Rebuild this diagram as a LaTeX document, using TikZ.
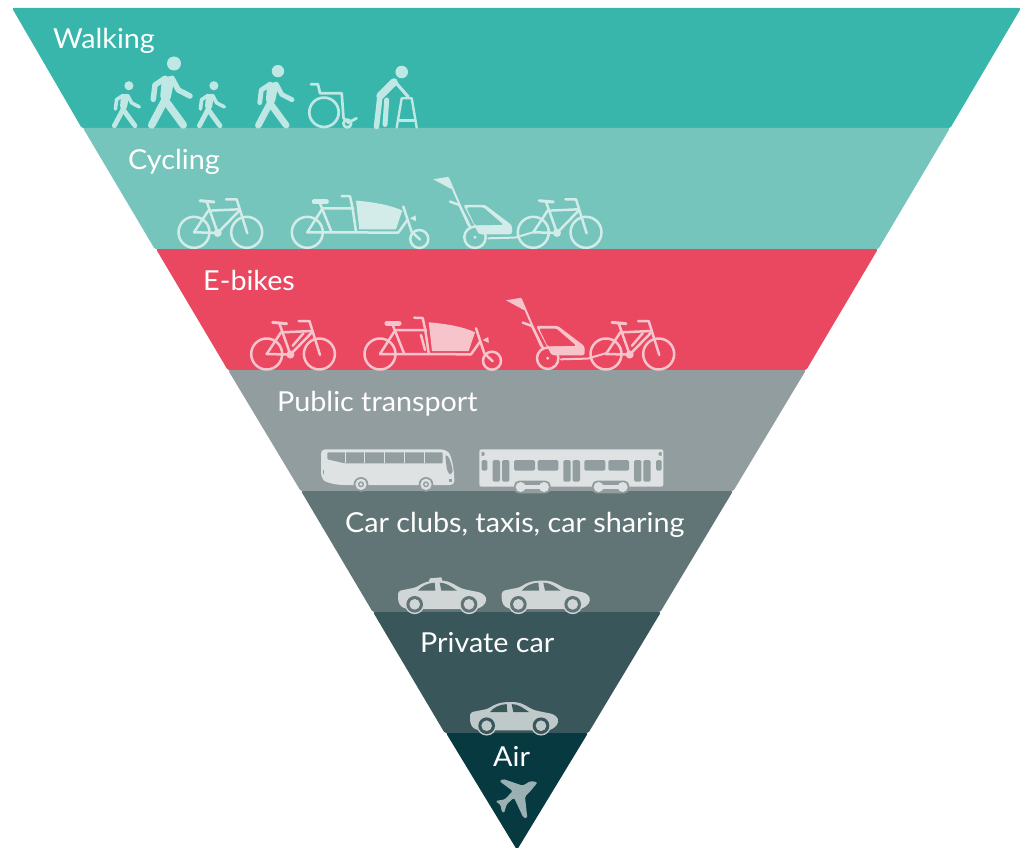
\documentclass[tikz,border=0pt]{standalone}
\usepackage{fontspec}
\setmainfont[FakeStretch=1.045]{Lato}
\definecolor{cWalk}{HTML}{38B6AB}
\definecolor{cCyc}{HTML}{76C5BC}
\definecolor{cEb}{HTML}{EA4860}
\definecolor{cPt}{HTML}{929DA0}
\definecolor{cClub}{HTML}{617577}
\definecolor{cPriv}{HTML}{39565A}
\definecolor{cAir}{HTML}{063A40}
\colorlet{ic}{white}
\colorlet{bg}{black}
\tikzset{
  band/.style={rounded corners=2pt,draw=none},
  lbl/.style={anchor=base west,inner sep=0pt,text=white,font=\fontsize{27.5}{30}\selectfont},
  ln/.style={draw=ic,line width=#1,line cap=round,line join=round,fill=none},
  ln/.default=2.5pt,
}
% walking figure: origin between the feet
\newcommand{\walkicon}[3]{\begin{scope}[shift={(#1,#2)},scale=#3]
  \fill[ic] (6,-63.5) circle (7);
  \fill[ic,rounded corners=3pt] (-6,-50) -- (6,-51) -- (5,-40) -- (2,-26) -- (-8,-28) -- cycle;
  \draw[ln=#3*7.5pt] (-3,-27) -- (-16.3,-2);
  \draw[ln=#3*7.5pt] (-3,-27) -- (15.3,-2);
  \draw[ln=#3*5.5pt] (-3,-48.7) -- (-13,-42) -- (-14.7,-27.7);
  \draw[ln=#3*5.5pt] (4,-48.7) -- (10.3,-37) -- (22,-31);
\end{scope}}
% bicycle: origin at rear axle
\newcommand{\bikeicon}[2]{\begin{scope}[shift={(#1,#2)}]
  \draw[ln] (0,0) circle (15.5);
  \draw[ln] (52.7,0) circle (15.5);
  \fill[ic] (23.7,0.6) circle (4);
  \draw[ln] (0,0) -- (23.7,0.6) -- (45.3,-21.6);
  \draw[ln] (0,0) -- (14.3,-21.6) -- (45.3,-23);
  \draw[ln] (12.7,-30.6) -- (23.7,0.6);
  \draw[ln] (32,-33) -- (42.7,-33) -- (53.3,1);
  \draw[ln=3pt] (6,-31.6) -- (20,-30.3);
\end{scope}}
% cargo bike: origin at rear axle
\newcommand{\cargoicon}[2]{\begin{scope}[shift={(#1,#2)}]
  \draw[ln] (0,0) circle (15.5);
  \draw[ln] (112,6.7) circle (9);
  \fill[ic] (48.7,-31.7) .. controls (68,-30) and (84,-27) .. (95,-21.7)
     -- (88.7,-3) -- (52,-3) -- cycle;
  \draw[ln] (0,0) -- (91,0.3) -- (100,-12.3);
  \draw[ln] (12.7,-29) -- (24.3,0);
  \draw[ln] (0,0) -- (15.3,-24) -- (46,-24);
  \draw[ln] (34.3,-36.3) -- (42.7,-36) -- (45.3,-24) -- (48.7,-0.7);
  \draw[ln=4.5pt] (6.7,-30.7) -- (19.3,-30.7);
  \draw[ln] (96,-25.7) -- (104.3,-0.7) -- (112.7,7.3);
  \fill[ic] (102.7,-14) -- (108.3,-17) -- (108.8,-11) -- cycle;
\end{scope}}
% child trailer: origin at wheel axle
\newcommand{\trailericon}[2]{\begin{scope}[shift={(#1,#2)}]
  \draw[ln] (0,0) circle (10.7);
  \fill[ic] (0,0) circle (1.6);
  \draw[ln=2pt] (-26.7,-59) -- (-6.7,-12.3);
  \fill[ic] (-41.7,-58) -- (-26.7,-60.5) -- (-23.3,-48) -- cycle;
  \draw[ln] (-25,-35.7) -- (-15.7,-32.3) -- (-5,-10.7);
  \fill[ic,rounded corners=2.5pt] (-11.7,-32.5) -- (10,-32.5) -- (37,-12) -- (37,-3) -- (4,-3) -- cycle;
  \fill[bg,rounded corners=1.5pt] (-8.5,-29.8) -- (8.5,-29.8) -- (28.5,-12.5) -- (0,-12) -- cycle;
  \draw[ln=2pt] (13.3,1) -- (40,0.3) -- (58,-5);
\end{scope}}
\newcommand{\wheelchairicon}{%
  \draw[ln=2.7pt] (324,112.3) circle (14.7);
  \draw[ln=2.7pt] (347.3,123.5) circle (3.9);
  \draw[ln=2.7pt] (311,84.3) -- (318,84.3) -- (320,93.3) -- (341.7,93.3) -- (343.5,118) -- (348.3,122.7) -- (356.5,118.3);
}
% car: origin at lower left of its box, 1/3 scale of drawn units
\newcommand{\caricon}[2]{\begin{scope}[shift={(#1,#2)},scale=1/3]
  \fill[ic,rounded corners=3pt] (0,-57) -- (55,-68) .. controls (72,-80) and (90,-88) .. (125,-88)
    .. controls (155,-88) and (175,-72) .. (195,-63) -- (250,-52) -- (266,-38) -- (262,-18) -- (240,-3)
    -- (30,-3) -- (10,-8) -- (0,-26) -- cycle;
  \fill[bg] (60,-58) .. controls (70,-72) and (90,-81) .. (110,-82) -- (112,-58) -- cycle;
  \fill[bg] (125,-82) .. controls (145,-82) and (160,-70) .. (177,-58) -- (130,-58) -- cycle;
  \foreach \wx in {50,213}{
    \fill[ic] (\wx,-17) circle (29.5);
    \fill[bg] (\wx,-17) circle (25);
    \fill[ic] (\wx,-17) circle (16);
  }
\end{scope}}
\begin{document}
\begin{tikzpicture}[x=1pt,y=-1pt]
\useasboundingbox (0,0) rectangle (1021,848);
% bands
\fill[band,cWalk] (12,8) -- (1021,8) -- (950,128.5) -- (82,128.5) -- cycle;
\fill[band,cCyc] (83,128) -- (950,128) -- (878,249.5) -- (155,249.5) -- cycle;
\fill[band,cEb] (156,249) -- (878,249) -- (806,370.5) -- (228,370.5) -- cycle;
\fill[band,cPt] (228,370) -- (806,370) -- (733,491.5) -- (301,491.5) -- cycle;
\fill[band,cClub] (301,491) -- (733,491) -- (660,612.5) -- (373,612.5) -- cycle;
\fill[band,cPriv] (373,612) -- (661,612) -- (588,733.5) -- (445,733.5) -- cycle;
\fill[band,cAir] (446,733) -- (588,733) -- (517,850) -- cycle;
% labels
\node[lbl] (walking) at (53,49) {Walking};
\node[lbl] (cycling) at (128,169.5) {Cycling};
\node[lbl] (ebikes) at (203,290) {E-bikes};
\node[lbl] (public) at (277,411) {Public transport};
\node[lbl] (clubs) at (345,532) {Car clubs, taxis, car sharing};
\node[lbl] (private) at (420,652) {Private car};
\node[lbl] (air) at (493,766.5) {Air};
% walking
\colorlet{ic}{white!68!cWalk}\colorlet{bg}{cWalk}
\walkicon{168}{127}{1}
\walkicon{125}{127}{0.65}
\walkicon{210}{127}{0.65}
\walkicon{272.7}{127}{0.88}
\wheelchairicon
\fill[ic] (401.7,72) circle (6.3);
\draw[ln=7.5pt] (394,82) -- (380,96);
\draw[ln=5.5pt] (380,96) -- (376.5,126.5);
\draw[ln=5pt] (386.7,100) -- (385,124.5);
\draw[ln=3.2pt] (395,81.7) -- (408.3,97);
\draw[ln=2.4pt] (396.7,127.5) -- (401.7,98.3) -- (411.7,98.3) -- (416.7,127.5);
\draw[ln=2.4pt] (398,120.7) -- (415,120.7);
% cycling
\colorlet{ic}{white!68!cCyc}\colorlet{bg}{cCyc}
\bikeicon{194}{232.3}
\cargoicon{307.3}{232.3}
\trailericon{475}{237.3}
\bikeicon{533.3}{232.3}
% e-bikes
\colorlet{ic}{white!68!cEb}\colorlet{bg}{cEb}
\bikeicon{266.7}{354}
\draw[ln] (292.7,345.7) -- (303.4,333.3);
\cargoicon{380}{354}
\draw[ln] (421,335) -- (425,350);
\trailericon{547.7}{358.3}
\bikeicon{606}{354}
\draw[ln] (632,345.7) -- (642.7,333.3);
% public transport
\colorlet{ic}{white!70!cPt}\colorlet{bg}{cPt}
\begin{scope}[shift={(310,440)},scale=1/3]
  \fill[ic,rounded corners=4pt] (33,28) -- (405,28) .. controls (425,45) and (433,90) .. (433,135)
    -- (95,135) .. controls (65,132) and (45,125) .. (33,112) -- cycle;
  \fill[bg,rounded corners=1pt] (52,37) -- (398,37) -- (398,70) -- (105,70) -- (52,58) -- cycle;
  \foreach \dx in {105,163,222,282,342} \fill[ic] (\dx-1.5,37) rectangle (\dx+1.5,70);
  \fill[bg,rounded corners=4pt] (405,40) .. controls (420,55) and (428,85) .. (428,105) -- (412,100) -- cycle;
  \fill[bg] (39,90) rectangle (43,103);
  \fill[bg] (418,117) rectangle (427,125);
  \foreach \wx in {153,348}{
    \fill[bg] (\wx,133) circle (22);
    \fill[ic] (\wx,133) circle (17);
    \fill[bg] (\wx,133) circle (9);
    \fill[ic] (\wx,133) circle (5);
  }
  \fill[ic,rounded corners=2pt] (508,28) rectangle (1060,140);
  \fill[bg] (515,35) -- (524,38) -- (524,46) -- (515,48) -- cycle;
  \fill[bg] (1055,35) -- (1046,38) -- (1046,46) -- (1055,48) -- cycle;
  \foreach \a/\b/\c/\d in {515/60/532/92,548/60/570/125,576/60/598/125,612/60/675/92,683/60/745/92,
      760/60/782/125,788/60/810/125,823/60/886/92,895/60/957/92,972/60/994/125,1000/60/1022/125,1038/60/1055/92}
    \fill[bg,rounded corners=1.5pt] (\a,\b) rectangle (\c,\d);
  \foreach \wa/\wb in {632/702,866/938}{
    \fill[bg,rounded corners=5pt] (\wa-20,122) rectangle (\wb+20,160);
    \fill[ic] (\wa,141) circle (15);
    \fill[ic] (\wb,141) circle (15);
    \fill[ic] (\wa,135) rectangle (\wb,147);
  }
\end{scope}
% car clubs
\colorlet{ic}{white!70!cClub}\colorlet{bg}{cClub}
\caricon{398}{610}
\begin{scope}[shift={(398,610)},scale=1/3]
  \fill[ic] (92,-85) -- (96,-95) -- (130,-98) -- (134,-85) -- cycle;
\end{scope}
\caricon{501.7}{610}
% private car
\colorlet{ic}{white!68!cPriv}\colorlet{bg}{cPriv}
\caricon{470}{731.4}
% air
\colorlet{ic}{white!60!cAir}
\begin{scope}[shift={(440,695)},scale=1/3]
  \fill[ic,rounded corners=1.5pt] (293,262) -- (270,290) -- (255,305) -- (262,370) -- (250,368)
    -- (222,308) -- (200,328) -- (192,355) -- (185,350) -- (182,330) -- (166,318) -- (195,313)
    -- (218,288) -- (178,258) -- (190,252) -- (248,272) -- (272,258) -- cycle;
\end{scope}
\end{tikzpicture}
\end{document}
